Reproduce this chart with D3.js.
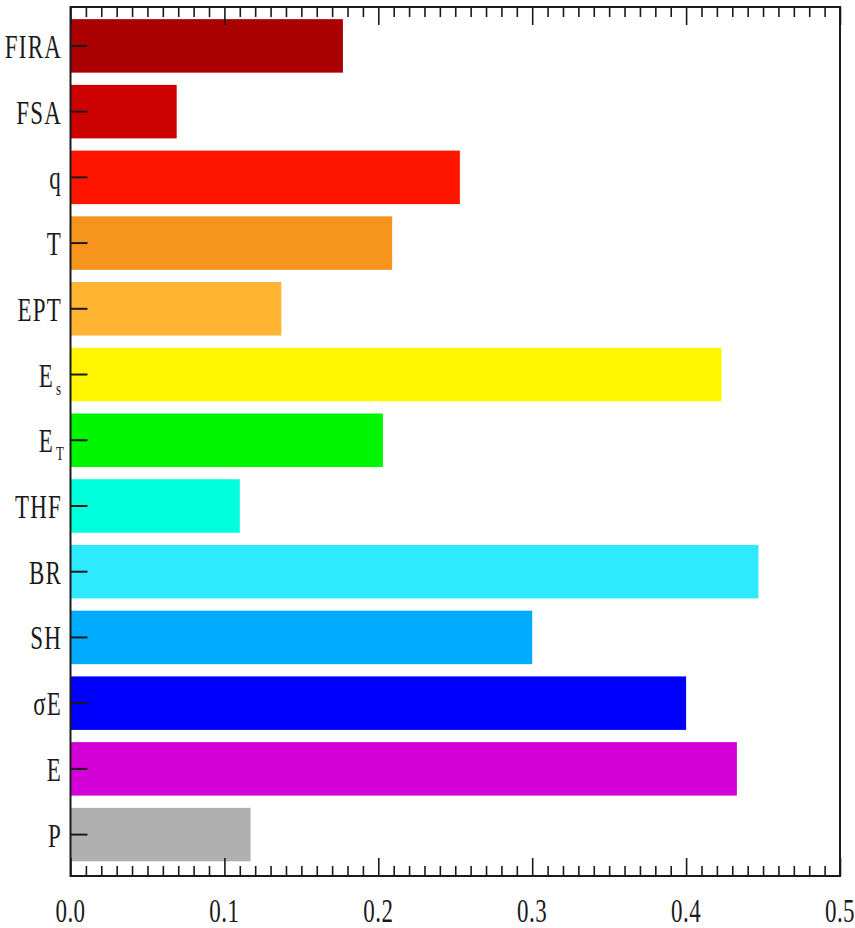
<!DOCTYPE html>
<html>
<head>
<meta charset="utf-8">
<script src="https://cdn.jsdelivr.net/npm/d3@7"></script>
<style>
  html, body { margin: 0; padding: 0; background: #fff; }
  svg { display: block; }
</style>
</head>
<body>
<script>
// Variables, top to bottom
const categories = ["FIRA", "FSA", "q", "T", "EPT", "Es", "ET", "THF", "BR", "SH", "σE", "E", "P"];
// Label pieces: main text and optional subscript
const labelMain = ["FIRA", "FSA", "q", "T", "EPT", "E", "E", "THF", "BR", "SH", "σE", "E", "P"];
const labelSub  = ["", "", "", "", "", "s", "T", "", "", "", "", "", ""];
const values = [0.177, 0.069, 0.253, 0.209, 0.137, 0.423, 0.203, 0.110, 0.447, 0.300, 0.400, 0.433, 0.117];
const colors = ["#aa0000", "#cc0000", "#ff1400", "#f7941d", "#ffb432", "#fff500", "#00f500", "#00ffdc",
                "#2eeaff", "#00aaff", "#0000ff", "#d400d8", "#b0b0b0"];
const xTicks = [0.0, 0.1, 0.2, 0.3, 0.4, 0.5];
const xTickLabels = ["0.0", "0.1", "0.2", "0.3", "0.4", "0.5"];

const W = 855, H = 928;
const frame = { left: 70.5, right: 840, top: 7, bottom: 876 };

const svg = d3.select("body").append("svg")
  .attr("width", W).attr("height", H);

const x = d3.scaleLinear().domain([0, 0.5]).range([frame.left, frame.right]);
const y = d3.scaleBand().domain(categories)
  .range([6, 874.5]).paddingInner(0.186).paddingOuter(0.2);

// Bars
svg.append("g").selectAll("rect")
  .data(categories)
  .join("rect")
  .attr("x", x(0))
  .attr("y", d => y(d))
  .attr("width", (d, i) => x(values[i]) - x(0))
  .attr("height", y.bandwidth())
  .attr("fill", (d, i) => colors[i]);

const ink = "#1a1a1a";

// Minor and major ticks on bottom and top, pointing inward
const minor = d3.range(0, 51).map(i => i / 100).filter(v => Math.round(v * 100) % 10 !== 0);
const axisBottomMinor = d3.axisBottom(x).tickValues(minor).tickSize(-10).tickFormat("");
const axisBottomMajor = d3.axisBottom(x).tickValues(xTicks).tickSize(-18).tickFormat("");
const axisTopMinor = d3.axisTop(x).tickValues(minor).tickSize(-10).tickFormat("");
const axisTopMajor = d3.axisTop(x).tickValues(xTicks).tickSize(-18).tickFormat("");

[[axisBottomMinor, frame.bottom], [axisBottomMajor, frame.bottom],
 [axisTopMinor, frame.top], [axisTopMajor, frame.top]].forEach(([ax, ty]) => {
  const g = svg.append("g").attr("transform", `translate(0,${ty})`).call(ax);
  g.select(".domain").remove();
  g.selectAll(".tick line").attr("stroke", ink).attr("stroke-width", 1.6);
});

// Category ticks on the left, pointing inward
const axisLeft = d3.axisLeft(y).tickSize(-17).tickFormat("");
const gl = svg.append("g").attr("transform", `translate(${frame.left},0)`).call(axisLeft);
gl.select(".domain").remove();
gl.selectAll(".tick line").attr("stroke", ink).attr("stroke-width", 2);

// Frame
svg.append("rect")
  .attr("x", frame.left).attr("y", frame.top)
  .attr("width", frame.right - frame.left)
  .attr("height", frame.bottom - frame.top)
  .attr("fill", "none").attr("stroke", ink).attr("stroke-width", 2);

// Category labels (vertically stretched serif)
const labels = svg.append("g");
categories.forEach((c, i) => {
  const cy = y(c) + y.bandwidth() / 2;
  const hasSub = labelSub[i] !== "";
  const t = labels.append("text")
    .attr("transform", `translate(${hasSub ? 54 : 62},${cy + 12}) scale(1,1.5)`)
    .attr("text-anchor", hasSub ? "end" : "end")
    .attr("font-family", "'Liberation Serif', 'DejaVu Serif', serif")
    .attr("font-size", 23)
    .attr("letter-spacing", 1.2)
    .attr("fill", ink)
    .text(labelMain[i]);
  if (hasSub) {
    labels.append("text")
      .attr("transform", `translate(56,${cy + 20}) scale(1,1.5)`)
      .attr("font-family", "'Liberation Serif', 'DejaVu Serif', serif")
      .attr("font-size", 13)
      .attr("fill", ink)
      .text(labelSub[i]);
  }
});

// X tick labels
const xl = svg.append("g");
xTicks.forEach((v, i) => {
  xl.append("text")
    .attr("transform", `translate(${x(v)},922) scale(1,1.5)`)
    .attr("text-anchor", "middle")
    .attr("font-family", "'Liberation Serif', 'DejaVu Serif', serif")
    .attr("font-size", 23)
    .attr("letter-spacing", 0.5)
    .attr("fill", ink)
    .text(xTickLabels[i]);
});
</script>
</body>
</html>
